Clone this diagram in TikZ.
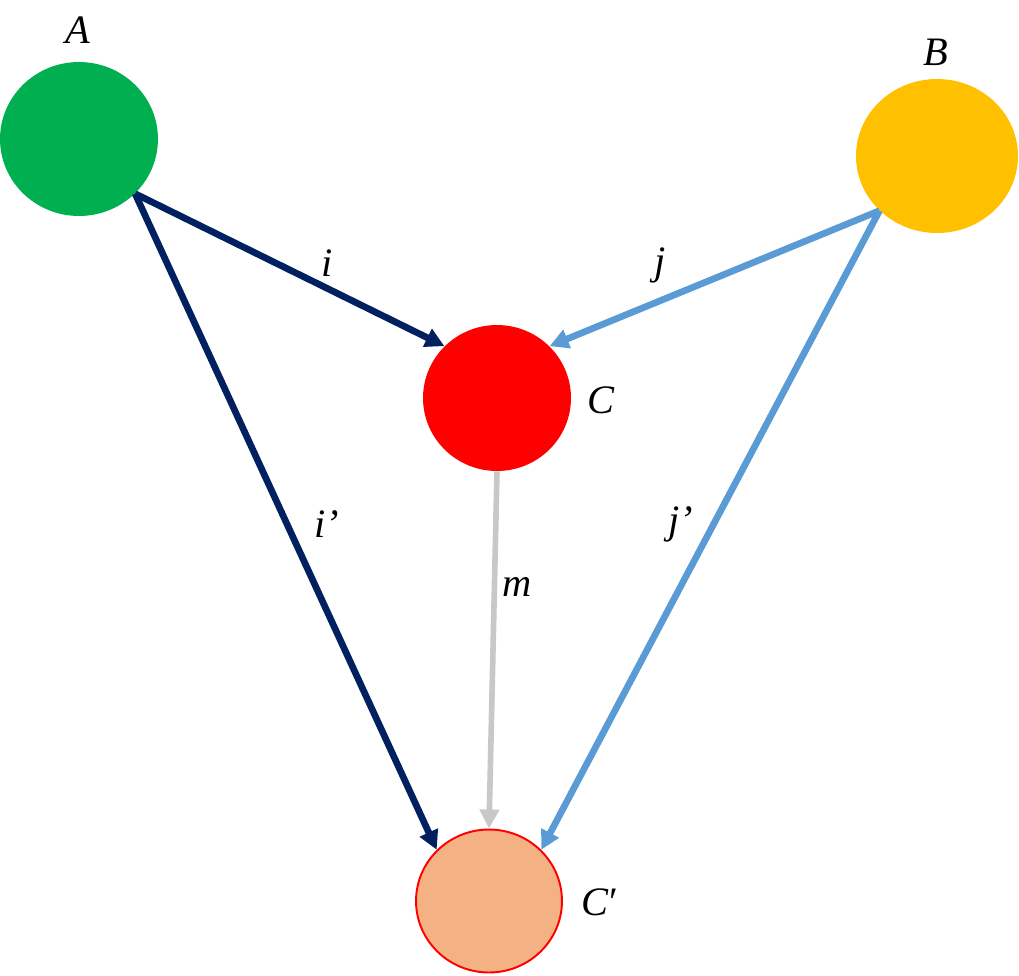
\documentclass[tikz,border=0pt]{standalone}
\usepackage{fontspec}
\setmainfont{Liberation Serif}
\usetikzlibrary{shapes.geometric,arrows.meta}
\definecolor{cA}{HTML}{00B050}
\definecolor{cB}{HTML}{FFC000}
\definecolor{cC}{HTML}{FF0000}
\definecolor{cCp}{HTML}{F4B183}
\definecolor{navy}{HTML}{002060}
\definecolor{lblue}{HTML}{5B9BD5}
\definecolor{lgray}{HTML}{C8C8C8}
\tikzset{
  blob/.style={ellipse, inner sep=0pt, draw=none},
  lbl/.style={inner sep=0pt, font=\fontsize{23}{27}\selectfont\itshape},
  conn/.style={line width=3.8pt, -{Triangle[length=0.38cm,width=0.38cm]}},
}
\begin{document}
\begin{tikzpicture}[x=0.02cm,y=-0.02cm]
\useasboundingbox (0,0) rectangle (1019,975);
\node[blob, fill=cA, minimum width=3.16cm, minimum height=3.08cm] (A) at (79,139) {};
\node[blob, fill=cB, minimum width=3.24cm, minimum height=3.08cm] (B) at (937,156) {};
\node[blob, fill=cC, minimum width=2.96cm, minimum height=2.92cm] (C) at (497,398) {};
\node[ellipse, inner sep=0pt, fill=cCp, draw=cC, line width=1.1pt, minimum width=2.92cm, minimum height=2.86cm] (Cp) at (489,901) {};
\node[lbl] (lA) at (78,30) {A};
\node[lbl] (lB) at (936,52) {B};
\node[lbl] (lC) at (601,400) {C};
\node[lbl] (lCp) at (600,902) {C\textup{′}};
\draw[conn, navy] (A.south east) -- (C.north west);
\node[lbl] (li) at (327,263) {i};
\draw[conn, navy] (A.south east) -- (Cp.north west);
\node[lbl] (lip) at (327,524) {i’};
\draw[conn, lblue] (B.south west) -- (C.north east);
\node[lbl] (lj) at (660,265) {j};
\draw[conn, lblue] (B.south west) -- (Cp.north east);
\node[lbl] (ljp) at (681,524) {j’};
\draw[conn, lgray, line width=3.2pt] (C.south) -- (Cp.north);
\node[lbl] (lm) at (517,587) {m};
\end{tikzpicture}
\end{document}
